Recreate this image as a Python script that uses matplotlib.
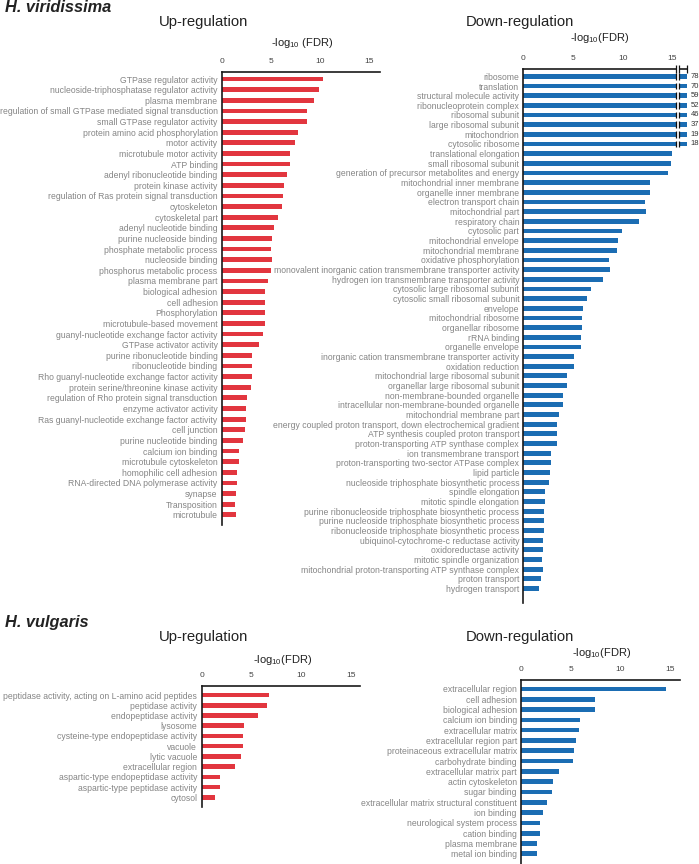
import numpy as np
import matplotlib
matplotlib.use('Agg')
import matplotlib.pyplot as plt

plt.rcParams['font.family'] = ['Liberation Sans', 'DejaVu Sans']
plt.rcParams['mathtext.default'] = 'regular'

# H. viridissima, up-regulated GO terms (-log10 FDR)
vir_up_terms = [
    'GTPase regulator activity', 'nucleoside-triphosphatase regulator activity', 'plasma membrane',
    'regulation of small GTPase mediated signal transduction', 'small GTPase regulator activity',
    'protein amino acid phosphorylation', 'motor activity', 'microtubule motor activity', 'ATP binding',
    'adenyl ribonucleotide binding', 'protein kinase activity', 'regulation of Ras protein signal transduction',
    'cytoskeleton', 'cytoskeletal part', 'adenyl nucleotide binding', 'purine nucleoside binding',
    'phosphate metabolic process', 'nucleoside binding', 'phosphorus metabolic process', 'plasma membrane part',
    'biological adhesion', 'cell adhesion', 'Phosphorylation', 'microtubule-based movement',
    'guanyl-nucleotide exchange factor activity', 'GTPase activator activity', 'purine ribonucleotide binding',
    'ribonucleotide binding', 'Rho guanyl-nucleotide exchange factor activity',
    'protein serine/threonine kinase activity', 'regulation of Rho protein signal transduction',
    'enzyme activator activity', 'Ras guanyl-nucleotide exchange factor activity', 'cell junction',
    'purine nucleotide binding', 'calcium ion binding', 'microtubule cytoskeleton', 'homophilic cell adhesion',
    'RNA-directed DNA polymerase activity', 'synapse', 'Transposition', 'microtubule']
vir_up_vals = [10.3, 9.9, 9.4, 8.7, 8.7, 7.8, 7.5, 7.0, 7.0, 6.7, 6.4, 6.3,
               6.2, 5.7, 5.3, 5.1, 5.0, 5.1, 5.0, 4.7, 4.4, 4.4, 4.4, 4.4,
               4.2, 3.85, 3.1, 3.1, 3.1, 3.0, 2.55, 2.5, 2.5, 2.4, 2.2, 1.8,
               1.8, 1.55, 1.55, 1.45, 1.35, 1.45]

# H. viridissima, down-regulated
vir_down_terms = [
    'ribosome', 'translation', 'structural molecule activity', 'ribonucleoprotein complex', 'ribosomal subunit',
    'large ribosomal subunit', 'mitochondrion', 'cytosolic ribosome', 'translational elongation',
    'small ribosomal subunit', 'generation of precursor metabolites and energy', 'mitochondrial inner membrane',
    'organelle inner membrane', 'electron transport chain', 'mitochondrial part', 'respiratory chain',
    'cytosolic part', 'mitochondrial envelope', 'mitochondrial membrane', 'oxidative phosphorylation',
    'monovalent inorganic cation transmembrane transporter activity',
    'hydrogen ion transmembrane transporter activity', 'cytosolic large ribosomal subunit',
    'cytosolic small ribosomal subunit', 'envelope', 'mitochondrial ribosome', 'organellar ribosome',
    'rRNA binding', 'organelle envelope', 'inorganic cation transmembrane transporter activity',
    'oxidation reduction', 'mitochondrial large ribosomal subunit', 'organellar large ribosomal subunit',
    'non-membrane-bounded organelle', 'intracellular non-membrane-bounded organelle',
    'mitochondrial membrane part', 'energy coupled proton transport, down electrochemical gradient',
    'ATP synthesis coupled proton transport', 'proton-transporting ATP synthase complex',
    'ion transmembrane transport', 'proton-transporting two-sector ATPase complex', 'lipid particle',
    'nucleoside triphosphate biosynthetic process', 'spindle elongation', 'mitotic spindle elongation',
    'purine ribonucleoside triphosphate biosynthetic process',
    'purine nucleoside triphosphate biosynthetic process', 'ribonucleoside triphosphate biosynthetic process',
    'ubiquinol-cytochrome-c reductase activity', 'oxidoreductase activity', 'mitotic spindle organization',
    'mitochondrial proton-transporting ATP synthase complex', 'proton transport', 'hydrogen transport']
vir_down_vals = [78, 70, 59, 52, 46, 37, 19, 18, 14.9, 14.8, 14.55, 12.7, 12.7,
                 12.25, 12.35, 11.6, 9.9, 9.5, 9.4, 8.65, 8.7, 8.0, 6.85, 6.4, 6.0,
                 5.9, 5.9, 5.8, 5.75, 5.05, 5.05, 4.4, 4.4, 4.0, 4.0, 3.6, 3.4, 3.4,
                 3.35, 2.75, 2.75, 2.65, 2.55, 2.2, 2.2, 2.05, 2.05, 2.05, 2.0, 2.0,
                 1.9, 2.0, 1.8, 1.55]

# H. vulgaris, up-regulated
vul_up_terms = [
    'peptidase activity, acting on L-amino acid peptides', 'peptidase activity', 'endopeptidase activity',
    'lysosome', 'cysteine-type endopeptidase activity', 'vacuole', 'lytic vacuole', 'extracellular region',
    'aspartic-type endopeptidase activity', 'aspartic-type peptidase activity', 'cytosol']
vul_up_vals = [6.8, 6.6, 5.7, 4.3, 4.15, 4.15, 3.95, 3.4, 1.9, 1.9, 1.35]

# H. vulgaris, down-regulated
vul_down_terms = [
    'extracellular region', 'cell adhesion', 'biological adhesion', 'calcium ion binding',
    'extracellular matrix', 'extracellular region part', 'proteinaceous extracellular matrix',
    'carbohydrate binding', 'extracellular matrix part', 'actin cytoskeleton', 'sugar binding',
    'extracellular matrix structural constituent', 'ion binding', 'neurological system process',
    'cation binding', 'plasma membrane', 'metal ion binding']
vul_down_vals = [14.55, 7.45, 7.45, 5.95, 5.8, 5.5, 5.35, 5.25, 3.8, 3.2, 3.1,
                 2.6, 2.2, 1.9, 1.9, 1.6, 1.6]

ticks = [0, 5, 10, 15]
red = '#e2363f'
blue = '#1b6db3'
W, H = 699, 864

fig = plt.figure(figsize=(W / 100, H / 100), dpi=100)


def panel(x0, y0, x1, y1, xmax, ylim, terms, vals, color, barh=0.45, cap=None):
    ax = fig.add_axes([x0 / W, 1 - y1 / H, (x1 - x0) / W, (y1 - y0) / H])
    y = np.arange(len(terms))
    shown = np.array(vals, dtype=float)
    if cap is not None:
        shown = np.minimum(shown, cap)
    ax.barh(y, shown, height=barh, color=color, zorder=2)
    ax.set_xlim(0, xmax)
    ax.set_ylim(*ylim)
    ax.set_yticks(y)
    ax.set_yticklabels(terms, fontsize=6.25, color='#858585')
    ax.set_xticks(ticks)
    ax.set_xticklabels([str(t) for t in ticks], fontsize=6, color='#444444')
    ax.xaxis.tick_top()
    ax.tick_params(axis='both', length=0)
    ax.tick_params(axis='y', pad=3)
    ax.tick_params(axis='x', pad=5)
    for s in ['right', 'bottom']:
        ax.spines[s].set_visible(False)
    for s in ['left', 'top']:
        ax.spines[s].set_linewidth(1.2)
        ax.spines[s].set_color('#1a1a1a')
    return ax


ax1 = panel(221.7, 72, 380, 525, 16.15, (41.96, -0.66), vir_up_terms, vir_up_vals, red, barh=0.45)

cap = 16.4
ax2 = panel(523.3, 69, 687, 603, 16.45, (54.5, -0.76), vir_down_terms, vir_down_vals, blue,
            barh=0.5, cap=cap)
# axis break on the truncated bars
for i, v in enumerate(vir_down_vals):
    if v > cap:
        ax2.barh(i, 0.33, left=15.33, height=0.62, color='white', zorder=3)
        ax2.vlines([15.33, 15.66], i - 0.36, i + 0.36, color='#111111', lw=0.9, zorder=4)
        ax2.text(16.8, i, str(v), fontsize=5.5, va='center', ha='left', color='#333333', clip_on=False)
ax2.plot([15.33, 15.66], [-0.76, -0.76], color='white', lw=2.5, zorder=5, clip_on=False,
         solid_capstyle='butt')
ax2.vlines([15.33, 15.66], -1.2, -0.32, color='#111111', lw=0.9, zorder=6, clip_on=False)
ax2.vlines([16.4], -1.2, -0.32, color='#111111', lw=0.9, zorder=6, clip_on=False)

ax3 = panel(201.5, 686, 360, 807, 15.9, (10.95, -0.88), vul_up_terms, vul_up_vals, red, barh=0.45)
ax4 = panel(521, 680, 680, 864, 16.0, (16.99, -0.87), vul_down_terms, vul_down_vals, blue, barh=0.45)


def ftext(x, y, s, **kw):
    fig.text(x / W, 1 - y / H, s, va='center', **kw)


ftext(5, 8, 'H. viridissima', fontsize=11.8, fontweight='bold', style='italic', color='#222222')
ftext(5, 623, 'H. vulgaris', fontsize=11.8, fontweight='bold', style='italic', color='#222222')
ftext(203.5, 22, 'Up-regulation', fontsize=10.7, ha='center', color='#222222')
ftext(520.3, 22, 'Down-regulation', fontsize=10.7, ha='center', color='#222222')
ftext(203.7, 637, 'Up-regulation', fontsize=10.7, ha='center', color='#222222')
ftext(520, 637, 'Down-regulation', fontsize=10.7, ha='center', color='#222222')
ftext(301.7, 43, '-log$_{10}$ (FDR)', fontsize=8, ha='center', color='#222222')
ftext(599.7, 38, '-log$_{10}$(FDR)', fontsize=8, ha='center', color='#222222')
ftext(282.7, 660, '-log$_{10}$(FDR)', fontsize=8, ha='center', color='#222222')
ftext(601.7, 653, '-log$_{10}$(FDR)', fontsize=8, ha='center', color='#222222')

fig.savefig('out.png', dpi=100)
